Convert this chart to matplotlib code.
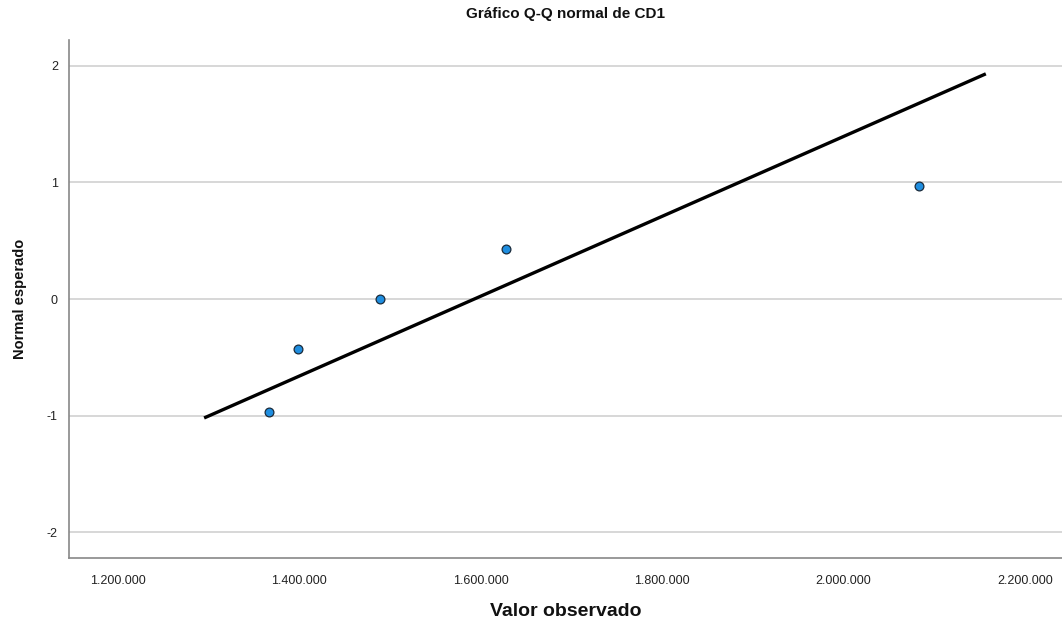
import matplotlib
matplotlib.use("Agg")
import matplotlib.pyplot as plt
import numpy as np

plt.rcParams['font.family'] = ['Liberation Sans', 'DejaVu Sans']

# Data
observed = [1366500, 1398500, 1489000, 1628000, 2083000]
expected_normal = [-0.967, -0.431, 0.0, 0.431, 0.967]
line_x_range = [1295000, 2157000]
x_ticks = [1200000, 1400000, 1600000, 1800000, 2000000, 2200000]
x_tick_labels = ["1.200.000", "1.400.000", "1.600.000", "1.800.000", "2.000.000", "2.200.000"]
y_ticks = [-2, -1, 0, 1, 2]

mean = np.mean(observed)
sd = np.std(observed, ddof=1)
lx = np.array(line_x_range)
ly = (lx - mean) / sd

fig = plt.figure(figsize=(10.62, 6.22), dpi=100)
ax = fig.add_axes([69/1062, 64/622, 1 - 69/1062, (558-40)/622])

for yt in y_ticks:
    ax.axhline(yt, color='#d4d4d4', lw=1.3, zorder=0)

ax.plot(lx, ly, color='black', lw=2.4, zorder=2, solid_capstyle='butt')
ax.scatter(observed, expected_normal, s=40, color='#1f8ee0', edgecolor='#1a2a3a',
           linewidth=0.9, zorder=3)

ax.set_xlim(1146000, 2241000)
ax.set_ylim(-2.221, 2.221)
ax.set_xticks(x_ticks)
ax.set_xticklabels(x_tick_labels)
ax.set_yticks(y_ticks)
ax.set_yticklabels([str(v) for v in y_ticks])
ax.tick_params(length=0, labelsize=9, colors='#222222', pad=8)
ax.tick_params(axis='x', pad=12)
for s in ['top', 'right']:
    ax.spines[s].set_visible(False)
for s in ['left', 'bottom']:
    ax.spines[s].set_color('#888888')
    ax.spines[s].set_linewidth(1.2)

ax.set_title("Gráfico Q-Q normal de CD1", fontsize=11, fontweight='bold', pad=16, color='#111111')
ax.set_xlabel("Valor observado", fontsize=14, fontweight='bold', labelpad=12, color='#111111')
ax.set_ylabel("Normal esperado", fontsize=10.5, fontweight='bold', labelpad=14, color='#111111')

fig.savefig("out.png", dpi=100)
